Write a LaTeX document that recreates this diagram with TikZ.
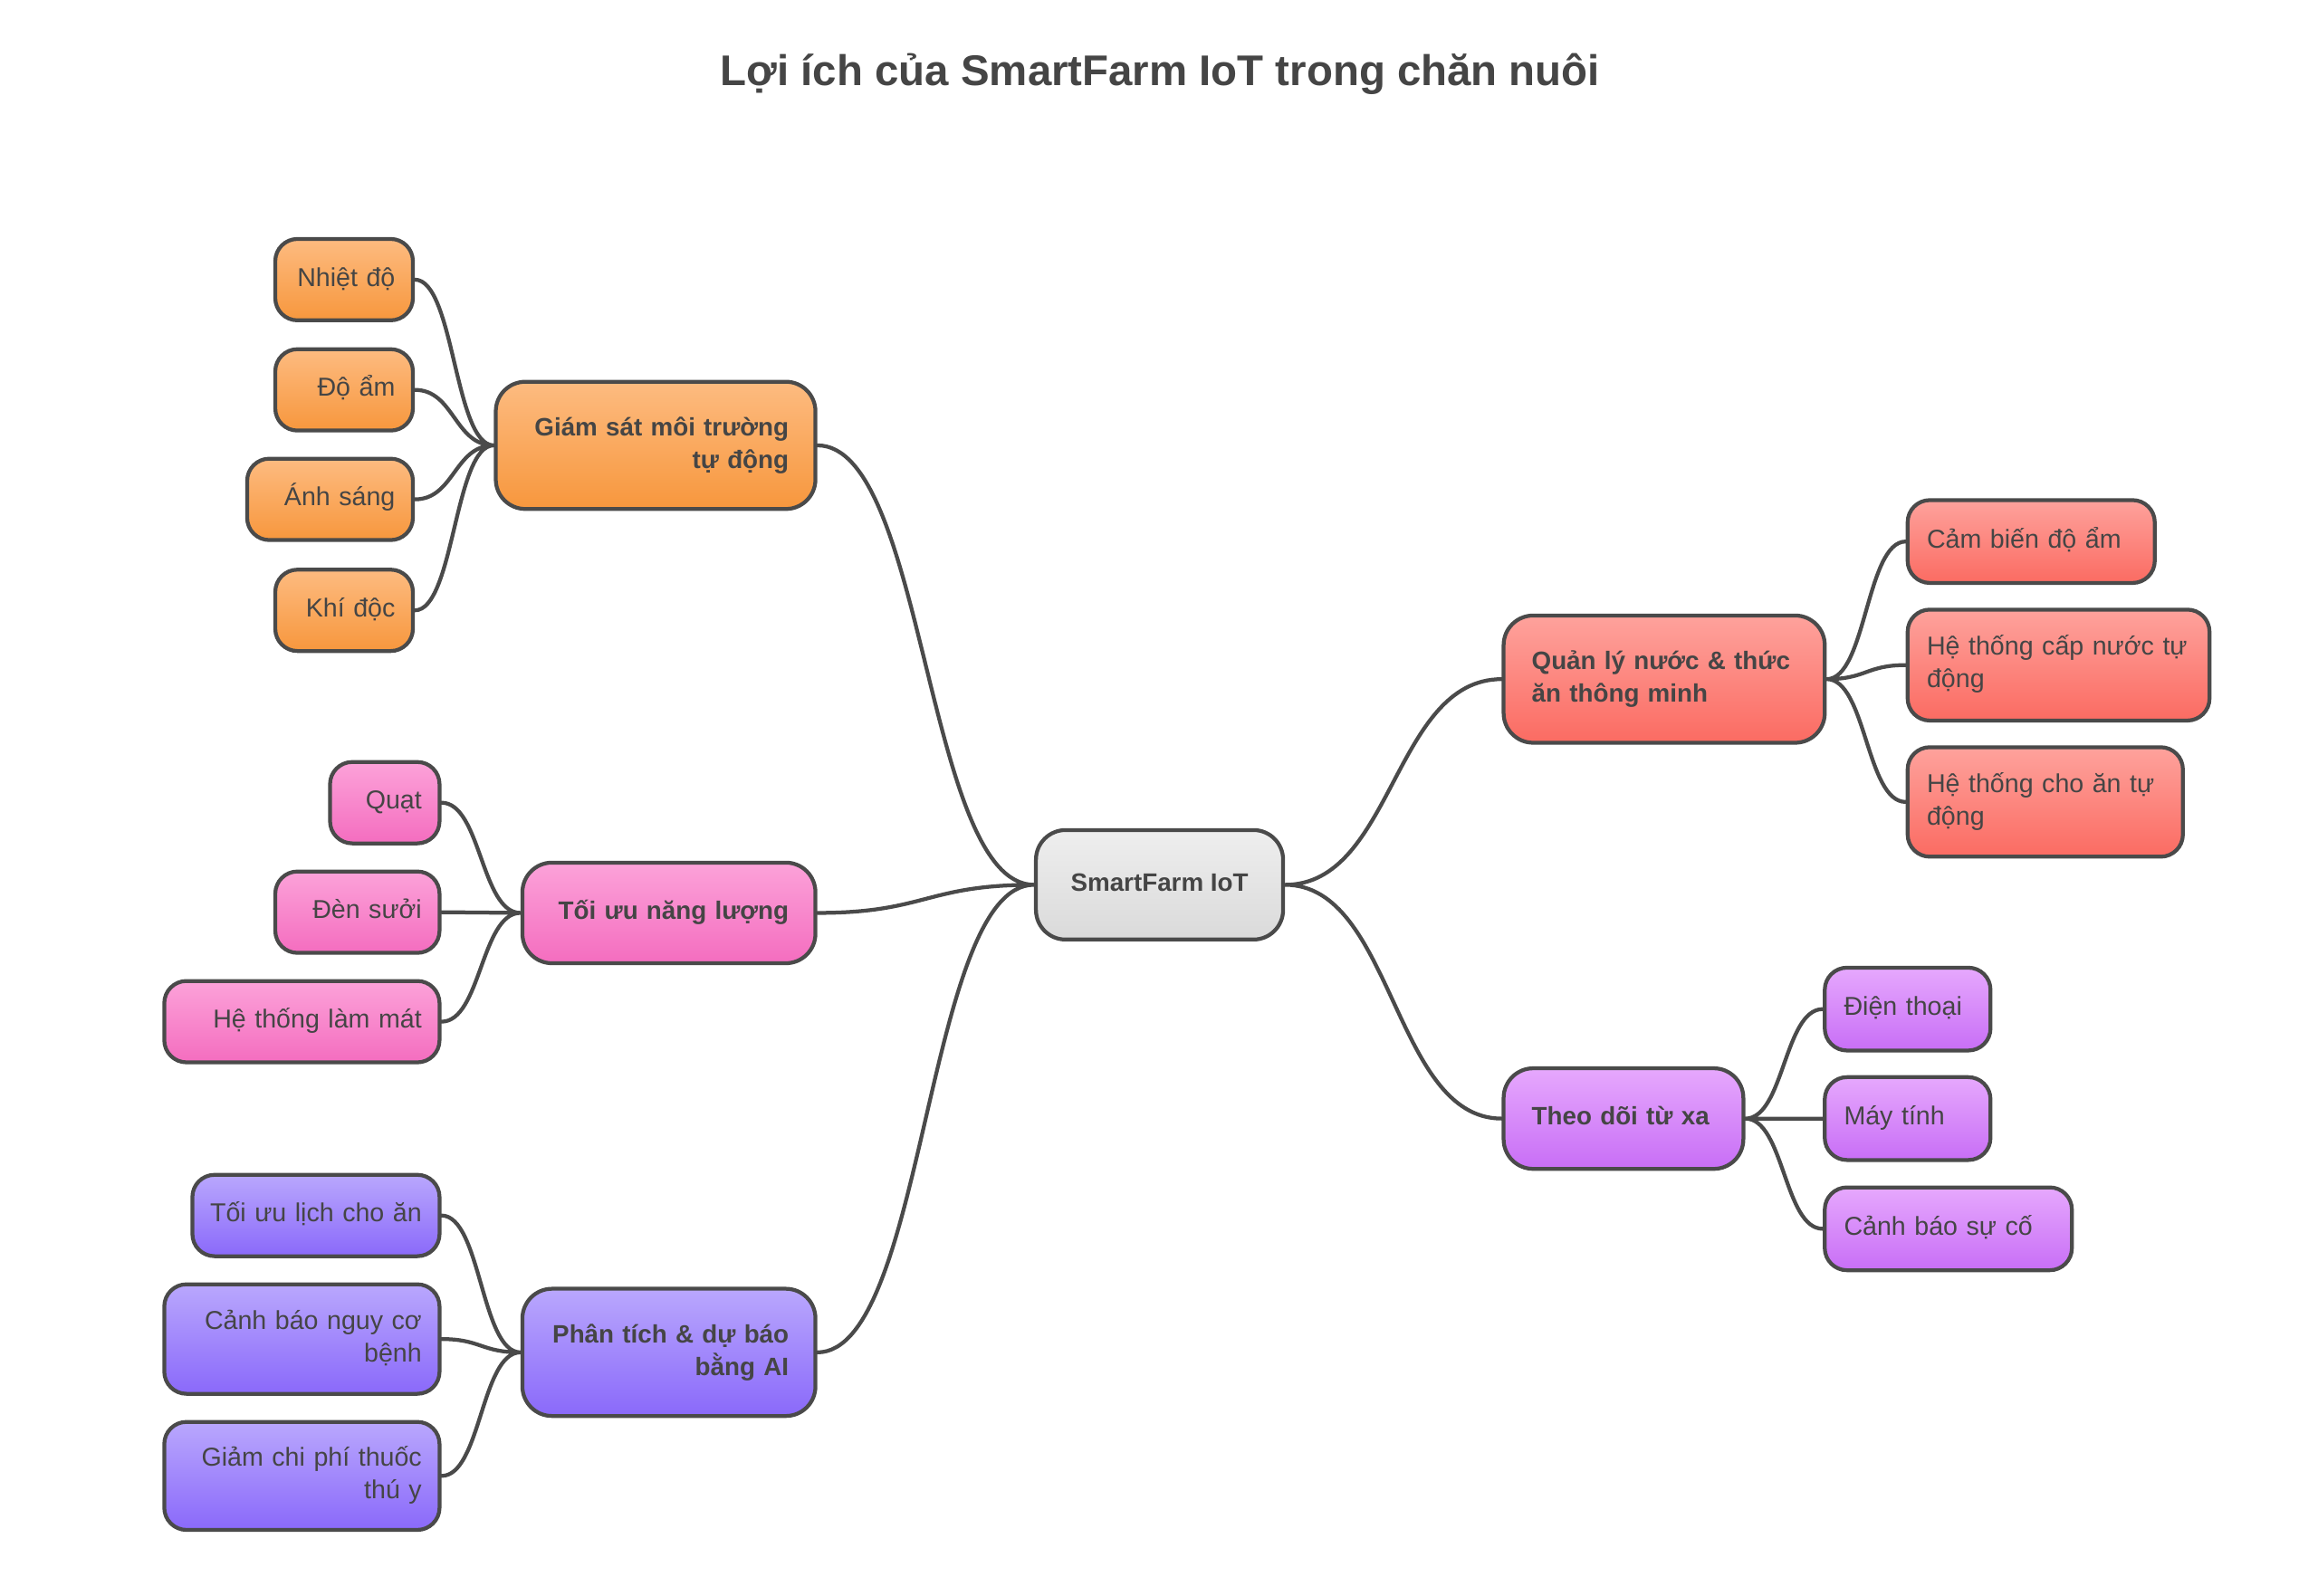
\documentclass[tikz,border=0pt]{standalone}
\usepackage{fontspec}
\setmainfont{Liberation Sans}
\usetikzlibrary{calc}

\definecolor{edge}{HTML}{4A4A4A}
\definecolor{txt}{HTML}{454545}
\definecolor{orangetop}{HTML}{FDBB80}
\definecolor{orangebot}{HTML}{F7973D}
\definecolor{pinktop}{HTML}{FCA2D9}
\definecolor{pinkbot}{HTML}{F46DBF}
\definecolor{bluetop}{HTML}{B9A7FD}
\definecolor{bluebot}{HTML}{8A69FA}
\definecolor{redtop}{HTML}{FEA29C}
\definecolor{redbot}{HTML}{FB6B62}
\definecolor{violettop}{HTML}{E6A8FD}
\definecolor{violetbot}{HTML}{C86EF6}
\definecolor{graytop}{HTML}{EEEEEE}
\definecolor{graybot}{HTML}{DADADA}

\tikzset{
  box/.style={draw=edge, line width=2.6pt, text=txt, inner ysep=0pt,
    execute at begin node=\strut, execute at end node=\strut},
  leaf/.style={box, rounded corners=15pt, font=\fontsize{17.5}{22}\selectfont},
  branch/.style={box, rounded corners=20pt, font=\bfseries\fontsize{17}{22}\selectfont},
  padleft/.style={align=left, execute at begin node={\leftskip=3pt\strut}},
  padright/.style={align=right, execute at begin node={\rightskip=3pt\strut}},
  lleaf/.style={leaf, padright, inner xsep=9pt, minimum height=55pt},
  rleaf/.style={leaf, padleft, inner xsep=10pt, minimum height=56pt},
  lbranch/.style={branch, padright, inner xsep=15pt},
  rbranch/.style={branch, padleft, inner xsep=16pt},
  orangebox/.style={top color=orangetop, bottom color=orangebot},
  pinkbox/.style={top color=pinktop, bottom color=pinkbot},
  bluebox/.style={top color=bluetop, bottom color=bluebot},
  redbox/.style={top color=redtop, bottom color=redbot},
  violetbox/.style={top color=violettop, bottom color=violetbot},
  graybox/.style={top color=graytop, bottom color=graybot},
  link/.style={to path={.. controls ($(\tikztostart)!0.5!(\tikztotarget|-\tikztostart)$)
      and ($(\tikztotarget)!0.5!(\tikztostart|-\tikztotarget)$) .. (\tikztotarget)}},
  conn/.style={draw=edge, line width=2.6pt, line cap=round, link}
}

\begin{document}
\begin{tikzpicture}[x=1pt, y=-1pt]
  \fill[white] (0,0) rectangle (1566.3,1078.1);
  \useasboundingbox (0,0) rectangle (1566.3,1078.1);

  \node[text=txt, font=\bfseries\fontsize{29}{34}\selectfont] (title) at (784,50) {Lợi ích của SmartFarm IoT trong chăn nuôi};

  \node[branch, graybox, minimum width=167pt, minimum height=74pt, inner xsep=0pt] (root) at (783.5,598) {SmartFarm IoT};

  \node[lbranch, orangebox, text width=186pt, minimum height=86pt] (giamsat) at (443,301) {Giám sát môi trường\\tự động};
  \node[lbranch, pinkbox, text width=168pt, minimum height=68pt] (nangluong) at (452,617) {Tối ưu năng lượng};
  \node[lbranch, bluebox, text width=168pt, minimum height=86pt] (phantich) at (452,914) {Phân tích \& dự báo\\bằng AI};
  \node[rbranch, redbox, text width=185pt, minimum height=86pt] (quanly) at (1124.5,459) {Quản lý nước \& thức\\ăn thông minh};
  \node[rbranch, violetbox, text width=130pt, minimum height=68pt] (theodoi) at (1097,756) {Theo dõi từ xa};

  \node[lleaf, orangebox, text width=75pt] (nhiet) at (232.5,189) {Nhiệt độ};
  \node[lleaf, orangebox, text width=75pt] (doam) at (232.5,263.5) {Độ ẩm};
  \node[lleaf, orangebox, text width=94pt] (anhsang) at (223,337.5) {Ánh sáng};
  \node[lleaf, orangebox, text width=75pt] (khidoc) at (232.5,412.5) {Khí độc};

  \node[lleaf, pinkbox, text width=56pt] (quat) at (260,542.5) {Quạt};
  \node[lleaf, pinkbox, text width=93pt] (densuoi) at (241.5,616.5) {Đèn sưởi};
  \node[lleaf, pinkbox, text width=168pt] (lammat) at (204,690.5) {Hệ thống làm mát};

  \node[lleaf, bluebox, text width=149pt] (lich) at (213.5,821.5) {Tối ưu lịch cho ăn};
  \node[lleaf, bluebox, text width=168pt, minimum height=74pt] (nguyco) at (204,905) {Cảnh báo nguy cơ\\bệnh};
  \node[lleaf, bluebox, text width=168pt, minimum height=73pt] (thuoc) at (204,997.5) {Giảm chi phí thuốc\\thú y};

  \node[rleaf, redbox, text width=147pt] (cambien) at (1372.5,366) {Cảm biến độ ẩm};
  \node[rleaf, redbox, text width=184pt, minimum height=75pt] (capnuoc) at (1391,449.5) {Hệ thống cấp nước tự\\động};
  \node[rleaf, redbox, text width=166pt, minimum height=74pt] (choan) at (1382,542) {Hệ thống cho ăn tự\\động};

  \node[rleaf, violetbox, text width=92pt] (dienthoai) at (1289,682) {Điện thoại};
  \node[rleaf, violetbox, text width=92pt] (maytinh) at (1289,756) {Máy tính};
  \node[rleaf, violetbox, text width=147pt] (canhbao) at (1316.5,830.5) {Cảnh báo sự cố};

  \draw[conn] (root.west) to (giamsat.east) (root.west) to (nangluong.east) (root.west) to (phantich.east);
  \draw[conn] (root.east) to (quanly.west) (root.east) to (theodoi.west);
  \draw[conn] (giamsat.west) to (nhiet.east) (giamsat.west) to (doam.east)
    (giamsat.west) to (anhsang.east) (giamsat.west) to (khidoc.east);
  \draw[conn] (nangluong.west) to (quat.east) (nangluong.west) to (densuoi.east) (nangluong.west) to (lammat.east);
  \draw[conn] (phantich.west) to (lich.east) (phantich.west) to (nguyco.east) (phantich.west) to (thuoc.east);
  \draw[conn] (quanly.east) to (cambien.west) (quanly.east) to (capnuoc.west) (quanly.east) to (choan.west);
  \draw[conn] (theodoi.east) to (dienthoai.west) (theodoi.east) to (maytinh.west) (theodoi.east) to (canhbao.west);
\end{tikzpicture}
\end{document}
